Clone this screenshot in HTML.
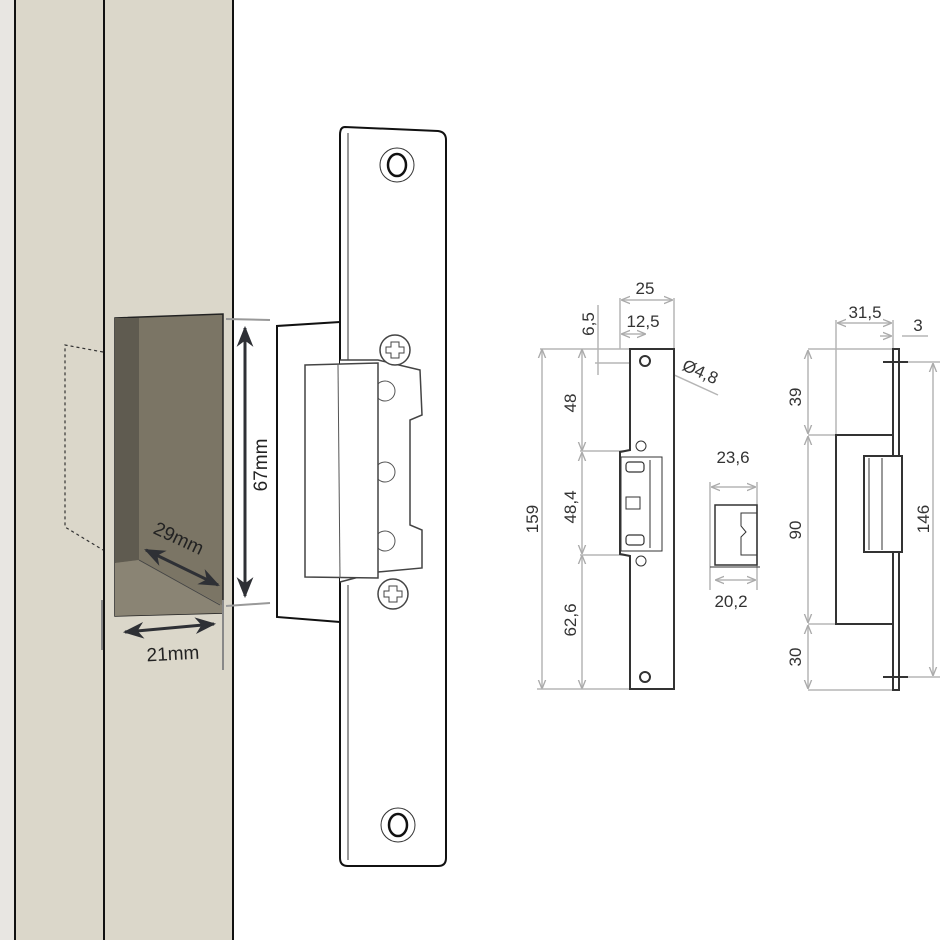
<!DOCTYPE html>
<html><head><meta charset="utf-8"><style>html,body{margin:0;padding:0;background:#fff}svg{display:block}text{font-family:"Liberation Sans",sans-serif}</style></head><body>
<svg width="940" height="940" viewBox="0 0 940 940" xmlns="http://www.w3.org/2000/svg">
<defs>
<marker id="ah" viewBox="0 0 10 10" refX="9" refY="5" markerWidth="7" markerHeight="7" orient="auto-start-reverse"><path d="M0,1 L10,5 L0,9 L3,5z" fill="#2e3035"/></marker>
<marker id="ga" viewBox="0 0 10 10" refX="9" refY="5" markerWidth="6" markerHeight="6" orient="auto-start-reverse"><path d="M0,1 L10,5 L0,9" fill="none" stroke="#aaa" stroke-width="1.5"/></marker>
</defs>
<rect x="0" y="0" width="15" height="940" fill="#e8e6e2"/>
<rect x="15" y="0" width="218" height="940" fill="#dbd7ca"/>
<line x1="15" y1="0" x2="15" y2="940" stroke="#111" stroke-width="2"/>
<line x1="104" y1="0" x2="104" y2="940" stroke="#111" stroke-width="2"/>
<line x1="233" y1="0" x2="233" y2="940" stroke="#111" stroke-width="2"/>
<polygon points="115,318 223,314 223,613 115,616" fill="#7b7565" stroke="#222" stroke-width="1.5"/>
<polygon points="115,318 139,318 139,560 115,563" fill="#5f5b50"/>
<polygon points="115,563 139,560 222,605 222,613 115,616" fill="#8a8474"/>
<line x1="139" y1="560" x2="220" y2="605" stroke="#444" stroke-width="1"/>
<polyline points="103,352 65,345 65,527 103,550" fill="none" stroke="#333" stroke-width="1.2" stroke-dasharray="3,3"/>
<line x1="102" y1="600" x2="102" y2="650" stroke="#888" stroke-width="2"/>
<line x1="223" y1="600" x2="223" y2="670" stroke="#888" stroke-width="2"/>
<line x1="226" y1="319" x2="270" y2="320" stroke="#999" stroke-width="2"/>
<line x1="226" y1="606" x2="270" y2="603" stroke="#999" stroke-width="2"/>
<line x1="245" y1="328" x2="245" y2="596" stroke="#2e3035" stroke-width="3" marker-start="url(#ah)" marker-end="url(#ah)"/>
<text transform="translate(267,465) rotate(-90)" text-anchor="middle" font-size="19" fill="#222">67mm</text>
<line x1="146" y1="550" x2="218" y2="585" stroke="#2e3035" stroke-width="3" marker-start="url(#ah)" marker-end="url(#ah)"/>
<text transform="translate(176,544) rotate(25)" text-anchor="middle" font-size="19" fill="#222">29mm</text>
<line x1="125" y1="632" x2="214" y2="624" stroke="#2e3035" stroke-width="3" marker-start="url(#ah)" marker-end="url(#ah)"/>
<text x="173" y="660" text-anchor="middle" font-size="19" fill="#222" transform="rotate(-3 173 655)">21mm</text>
<path d="M340,322 L277,326 L277,617 L340,622" fill="#fff" stroke="#111" stroke-width="2"/>
<path d="M345,127 L438,131 Q446,132 446,140 L446,858 Q446,866 438,866 L348,866 Q340,866 340,858 L340,135 Q340,127 345,127 Z" fill="#fff" stroke="#111" stroke-width="2"/>
<line x1="348" y1="133" x2="348" y2="360" stroke="#333" stroke-width="1"/>
<line x1="348" y1="585" x2="348" y2="860" stroke="#333" stroke-width="1"/>
<circle cx="397" cy="165" r="17" fill="none" stroke="#333" stroke-width="1"/>
<ellipse cx="397" cy="165" rx="9" ry="11" fill="none" stroke="#111" stroke-width="2.5"/>
<circle cx="398" cy="825" r="17" fill="none" stroke="#333" stroke-width="1"/>
<ellipse cx="398" cy="825" rx="9" ry="11" fill="none" stroke="#111" stroke-width="2.5"/>
<path d="M340,360 L378,360 L420,370 L422,415 L410,420 L410,525 L422,530 L422,568 L378,572 L340,582" fill="#fff" stroke="#444" stroke-width="1.5"/>
<circle cx="385" cy="391" r="10" fill="none" stroke="#555"/>
<circle cx="385" cy="472" r="10" fill="none" stroke="#555"/>
<circle cx="385" cy="541" r="10" fill="none" stroke="#555"/>
<path d="M305,365 L378,363 L378,578 L305,577 Z" fill="#fff" stroke="#444" stroke-width="1.5"/>
<line x1="338" y1="365" x2="340" y2="578" stroke="#555"/>
<circle cx="395" cy="350" r="15" fill="#fff" stroke="#444" stroke-width="1.5"/>
<path d="M391,342 h8 v5 h5 v6 h-5 v5 h-8 v-5 h-5 v-6 h5z" fill="none" stroke="#444"/>
<circle cx="393" cy="594" r="15" fill="#fff" stroke="#444" stroke-width="1.5"/>
<path d="M389,586 h8 v5 h5 v6 h-5 v5 h-8 v-5 h-5 v-6 h5z" fill="none" stroke="#444"/>

<g stroke="#b5b5b5" stroke-width="1.5" fill="none">
<line x1="620" y1="298" x2="620" y2="349"/><line x1="674" y1="298" x2="674" y2="349"/>
<line x1="622" y1="300" x2="672" y2="300" marker-start="url(#ga)" marker-end="url(#ga)"/>
<line x1="622" y1="334" x2="645" y2="334" marker-start="url(#ga)" marker-end="url(#ga)"/>
<line x1="598" y1="305" x2="598" y2="375"/>
<line x1="540" y1="349" x2="630" y2="349"/>
<line x1="595" y1="363" x2="645" y2="363"/>
<line x1="542" y1="350" x2="542" y2="688" marker-start="url(#ga)" marker-end="url(#ga)"/>
<line x1="582" y1="350" x2="582" y2="450" marker-start="url(#ga)" marker-end="url(#ga)"/>
<line x1="582" y1="453" x2="582" y2="553" marker-start="url(#ga)" marker-end="url(#ga)"/>
<line x1="582" y1="556" x2="582" y2="688" marker-start="url(#ga)" marker-end="url(#ga)"/>
<line x1="580" y1="451" x2="625" y2="451"/><line x1="580" y1="555" x2="625" y2="555"/>
<line x1="537" y1="689" x2="630" y2="689"/>
<line x1="648" y1="363" x2="718" y2="395"/>
<line x1="710" y1="482" x2="710" y2="590"/><line x1="757" y1="482" x2="757" y2="590"/>
<line x1="712" y1="487" x2="755" y2="487" marker-start="url(#ga)" marker-end="url(#ga)"/>
<line x1="716" y1="580" x2="755" y2="580" marker-start="url(#ga)" marker-end="url(#ga)"/>
<line x1="836" y1="320" x2="836" y2="435"/><line x1="893" y1="320" x2="893" y2="349"/>
<line x1="838" y1="323" x2="891" y2="323" marker-start="url(#ga)" marker-end="url(#ga)"/>
<line x1="880" y1="336" x2="891" y2="336" marker-end="url(#ga)"/>
<line x1="902" y1="336" x2="928" y2="336"/>
<line x1="808" y1="349" x2="893" y2="349"/>
<line x1="808" y1="435" x2="836" y2="435"/><line x1="808" y1="624" x2="836" y2="624"/>
<line x1="808" y1="690" x2="893" y2="690"/>
<line x1="808" y1="351" x2="808" y2="433" marker-start="url(#ga)" marker-end="url(#ga)"/>
<line x1="808" y1="437" x2="808" y2="622" marker-start="url(#ga)" marker-end="url(#ga)"/>
<line x1="808" y1="626" x2="808" y2="688" marker-start="url(#ga)" marker-end="url(#ga)"/>
<line x1="900" y1="362" x2="940" y2="362"/><line x1="900" y1="677" x2="940" y2="677"/>
<line x1="933" y1="364" x2="933" y2="675" marker-start="url(#ga)" marker-end="url(#ga)"/>
</g>
<g stroke="#333" stroke-width="2" fill="none">
<path d="M630,349 L674,349 L674,689 L630,689 L630,556 L620,554 L620,452 L630,450 Z" fill="#fff"/>
<rect x="621" y="457" width="41" height="94" stroke-width="1"/>
<rect x="626" y="462" width="18" height="10" rx="3" stroke-width="1.2"/>
<rect x="626" y="535" width="18" height="10" rx="3" stroke-width="1.2"/>
<rect x="626" y="497" width="14" height="12" stroke-width="1"/>
<line x1="650" y1="460" x2="650" y2="548" stroke-width="1"/>
<circle cx="645" cy="361" r="5"/><circle cx="645" cy="677" r="5"/>
<circle cx="641" cy="446" r="5" stroke-width="1"/><circle cx="641" cy="561" r="5" stroke-width="1"/>
<rect x="715" y="505" width="42" height="60" stroke-width="1.5"/>
<path d="M741,513 L757,513 L757,555 L741,555 L741,537 L746,532 L741,526 Z" stroke-width="1"/>
<line x1="710" y1="567" x2="760" y2="567" stroke-width="1"/>
<rect x="893" y="349" width="6" height="341" fill="#fff"/>
<rect x="836" y="435" width="57" height="189" fill="#fff"/>
<rect x="864" y="456" width="38" height="96" fill="#fff"/>
<line x1="869" y1="458" x2="869" y2="550" stroke-width="1"/>
<line x1="882" y1="458" x2="882" y2="550" stroke-width="1"/>
<line x1="883" y1="362" x2="908" y2="362"/><line x1="883" y1="677" x2="908" y2="677"/>
</g>
<g fill="#333" font-size="17">
<text x="645" y="294" text-anchor="middle">25</text>
<text x="643" y="327" text-anchor="middle">12,5</text>
<text transform="translate(594,324) rotate(-90)" text-anchor="middle">6,5</text>
<text transform="translate(698,377) rotate(24)" text-anchor="middle">Ø4,8</text>
<text transform="translate(576,403) rotate(-90)" text-anchor="middle">48</text>
<text transform="translate(576,507) rotate(-90)" text-anchor="middle">48,4</text>
<text transform="translate(576,620) rotate(-90)" text-anchor="middle">62,6</text>
<text transform="translate(538,519) rotate(-90)" text-anchor="middle">159</text>
<text x="733" y="463" text-anchor="middle">23,6</text>
<text x="731" y="607" text-anchor="middle">20,2</text>
<text x="865" y="318" text-anchor="middle">31,5</text>
<text x="918" y="331" text-anchor="middle">3</text>
<text transform="translate(801,397) rotate(-90)" text-anchor="middle">39</text>
<text transform="translate(801,530) rotate(-90)" text-anchor="middle">90</text>
<text transform="translate(801,657) rotate(-90)" text-anchor="middle">30</text>
<text transform="translate(929,519) rotate(-90)" text-anchor="middle">146</text>
</g>
</svg>
</body></html>
